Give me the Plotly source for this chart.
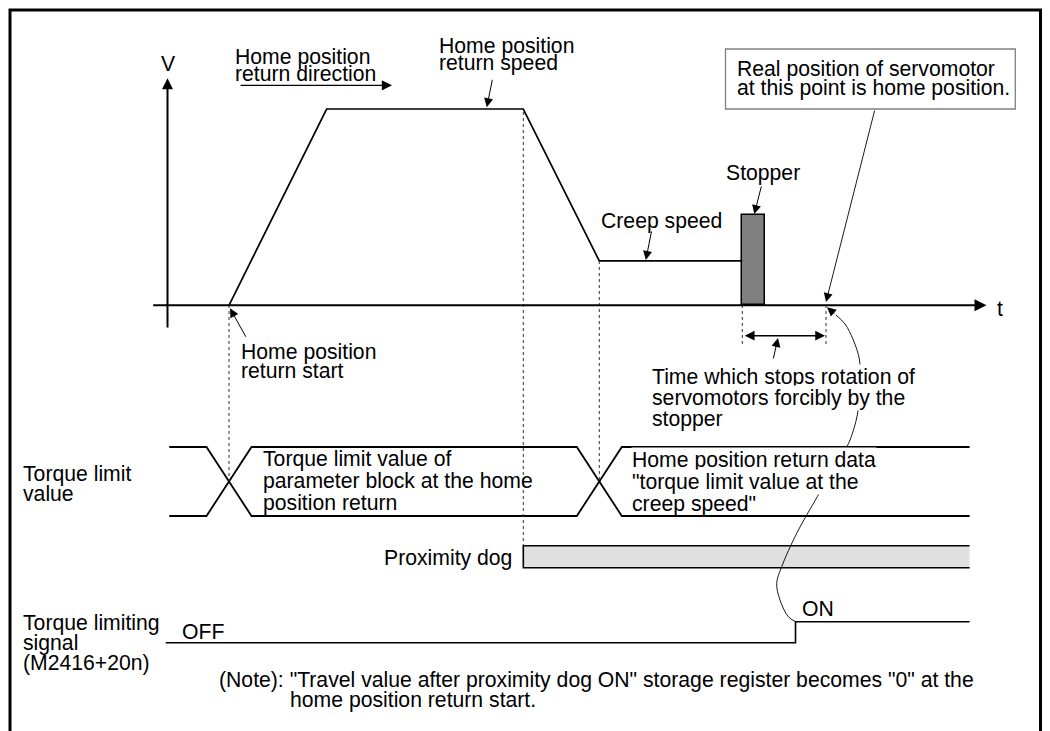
import plotly.graph_objects as go

# ---------------- data (timing of the home position return) ----------------
T_START = 229.0          # home position return start
T_ACCEL_END = 326.6      # reaches home position return speed
T_DOG_ON = 523.3         # proximity dog ON -> deceleration
T_CREEP = 599.3          # creep speed reached
T_STOPPER = 742.3        # stopper hit
T_STOPPER_END = 765.3
T_HOME = 826.0           # real home position
T_SIGNAL_ON = 795.5      # torque limiting signal ON
T_ROW_START = 169.3
T_SIGNAL_START = 165.7
T_ROW_END = 969.6

VEL_T = [T_START, T_ACCEL_END, T_DOG_ON, T_CREEP, T_STOPPER]
VEL_V = [0, 100, 100, 22.6, 22.6]          # % of home position return speed
STOPPER_HEIGHT = 46.0

TORQUE_CHANGE_T = [T_START, T_CREEP]
SIGNAL_T = [T_SIGNAL_START, T_SIGNAL_ON, T_SIGNAL_ON, T_ROW_END]
SIGNAL_LEVEL = [0, 0, 1, 1]
DOG_T = [T_DOG_ON, T_ROW_END]

# ---------------- layout constants (pixels) ----------------
W, H = 1050, 731
FONT = dict(family="Liberation Sans, Arial, sans-serif", size=21.2, color="black")
V_ZERO_PX, V_FULL_PX = 305.3, 109.0
TQ_TOP, TQ_BOT, TQ_HALF = 447.0, 516.0, 22.5
DOG_TOP, DOG_BOT = 545.7, 567.7
SIG_OFF, SIG_AMP = 642.7, 21.0

px_per_v = (V_ZERO_PX - V_FULL_PX) / 100.0
v_range = [-(H - V_ZERO_PX) / px_per_v, V_ZERO_PX / px_per_v]

fig = go.Figure()

# velocity profile
fig.add_trace(go.Scatter(x=VEL_T, y=VEL_V, yaxis="y2", mode="lines",
                         line=dict(color="black", width=1.7), hoverinfo="skip"))
# stopper
fig.add_trace(go.Bar(x=[(T_STOPPER + T_STOPPER_END) / 2], y=[STOPPER_HEIGHT],
                     width=[T_STOPPER_END - T_STOPPER], base=0, yaxis="y2",
                     marker=dict(color="#808080", line=dict(color="black", width=1.5)),
                     hoverinfo="skip"))

# torque limit value bus
xs1, ys1, xs2, ys2 = [T_ROW_START], [TQ_TOP], [T_ROW_START], [TQ_BOT]
state = 0
for t in TORQUE_CHANGE_T:
    a, b = (TQ_TOP, TQ_BOT) if state == 0 else (TQ_BOT, TQ_TOP)
    xs1 += [t - TQ_HALF, t + TQ_HALF]; ys1 += [a, b]
    xs2 += [t - TQ_HALF, t + TQ_HALF]; ys2 += [b, a]
    state = 1 - state
xs1.append(T_ROW_END); ys1.append(ys1[-1])
xs2.append(T_ROW_END); ys2.append(ys2[-1])
for xs, ys in ((xs1, ys1), (xs2, ys2)):
    fig.add_trace(go.Scatter(x=xs, y=ys, mode="lines",
                             line=dict(color="black", width=1.8), hoverinfo="skip"))

# proximity dog
fig.add_trace(go.Scatter(x=[DOG_T[0], DOG_T[1], DOG_T[1], DOG_T[0], DOG_T[0]],
                         y=[DOG_TOP, DOG_TOP, DOG_BOT, DOG_BOT, DOG_TOP],
                         fill="toself", fillcolor="#e0e0e0", mode="none", hoverinfo="skip"))
fig.add_trace(go.Scatter(x=[DOG_T[1], DOG_T[0], DOG_T[0], DOG_T[1]],
                         y=[DOG_TOP, DOG_TOP, DOG_BOT, DOG_BOT], mode="lines",
                         line=dict(color="black", width=1.6), hoverinfo="skip"))

# torque limiting signal
fig.add_trace(go.Scatter(x=SIGNAL_T, y=[SIG_OFF - l * SIG_AMP for l in SIGNAL_LEVEL],
                         mode="lines", line=dict(color="black", width=1.6), hoverinfo="skip"))

# curved callout (home position -> signal ON)
curve_x = [836, 845, 853.3, 859.5, 860, 857.3, 850, 844, 830, 817.3, 796.7, 781.7, 776.7, 780, 788.3, T_SIGNAL_ON]
curve_y = [315, 324, 340, 360, 385, 415, 440, 452, 475, 496.7, 533.3, 566.7, 583.3, 600, 616.7, SIG_OFF - SIG_AMP]
fig.add_trace(go.Scatter(x=curve_x, y=curve_y, mode="lines",
                         line=dict(color="black", width=0.9, shape="spline"), hoverinfo="skip"))

# ---------------- shapes ----------------
shapes = []
shapes.append(dict(type="rect", x0=10, y0=10, x1=1040.5, y1=760,
                   line=dict(color="black", width=3)))
shapes.append(dict(type="rect", x0=725.5, y0=49, x1=1015.3, y1=109,
                   line=dict(color="#808080", width=1.3), fillcolor="white"))
dashed = [(T_START, 305, 481), (T_DOG_ON, 112, DOG_TOP), (T_CREEP, 261, 481),
          (T_STOPPER, 305, 345), (T_HOME, 305, 345)]
for x, y0, y1 in dashed:
    shapes.append(dict(type="line", x0=x, x1=x, y0=y0, y1=y1,
                       line=dict(color="#333333", width=1, dash="3px,3px")))

# ---------------- annotations ----------------
ann = []


def arrow(tail, tip, width=1.0, size=1.8, both=False):
    d = dict(x=tip[0], y=tip[1], ax=tail[0], ay=tail[1], xref="x", yref="y",
             axref="x", ayref="y", text="", showarrow=True, arrowhead=2,
             arrowwidth=width, arrowsize=size, arrowcolor="black", standoff=0)
    if both:
        d.update(arrowside="end+start", startarrowhead=2, startarrowsize=size, startstandoff=0)
    ann.append(d)


def text(lines, x, y0, spacing=22.0, xanchor="left", mask=()):
    for i, s in enumerate(lines):
        d = dict(x=x, y=y0 + i * spacing, xref="x", yref="y", text=s,
                 showarrow=False, xanchor=xanchor, yanchor="middle",
                 font=FONT, borderpad=0)
        if i in mask:
            d["bgcolor"] = "white"
        ann.append(d)


# axes
arrow((167.5, 329), (167.5, 78.3), width=2, size=1.1)
arrow((151.7, V_ZERO_PX), (986.5, V_ZERO_PX), width=2, size=1.2)
# pointers
arrow((239, 85.3), (392, 85.3), width=1.2, size=1.7)
arrow((492.6, 78.3), (486.8, 107.3))
arrow((875, 109), (826, 302), width=0.9, size=2.0)
arrow((761.7, 185), (754.3, 214))
arrow((651.8, 230), (645.8, 260))
arrow((246.7, 338.3), (230, 308.3))
arrow((T_STOPPER + 1, 335.7), (T_HOME - 1, 335.7), width=1.5, size=1.3, both=True)
arrow((773, 360), (778, 338))
arrow((836, 315), (827, 307.3), width=0.9, size=2.0)

text(["V"], 168, 63, xanchor="center")
text(["t"], 996, 308)
text(["Home position", "return direction"], 234, 56.8, spacing=16.4)
text(["Home position", "return speed"], 437.5, 45.8, spacing=16.7)
text(["Real position of servomotor", "at this point is home position."], 735.5, 69.2, spacing=18.3)
text(["Stopper"], 725, 173.2)
text(["Creep speed"], 600, 220.8)
text(["Home position", "return start"], 239.5, 351.5, spacing=19.3)
text(["Time which stops rotation of", "servomotors forcibly by the", "stopper"], 650.5, 376.8,
     spacing=21.2, mask=(0, 1))
text(["Torque limit", "value"], 22, 474.2, spacing=19.0)
text(["Torque limit value of", "parameter block at the home", "position return"], 261.5, 459.2, spacing=21.7)
text(["Home position return data", "\"torque limit value at the", "creep speed\""], 631, 460.2,
     spacing=21.9, mask=(0, 1))
text(["Proximity dog"], 512.5, 557.5, xanchor="right")
text(["Torque limiting", "signal", "(M2416+20n)"], 22, 622.5, spacing=20.0)
text(["OFF"], 181, 631.7)
text(["ON"], 801, 608)
text(["(Note): \"Travel value after proximity dog ON\" storage register becomes \"0\" at the"],
     217.5, 679.5)
text(["home position return start."], 288.5, 699.5)

fig.update_layout(
    width=W, height=H, margin=dict(l=0, r=0, t=0, b=0),
    paper_bgcolor="white", plot_bgcolor="white", showlegend=False,
    xaxis=dict(range=[0, W], visible=False, fixedrange=True),
    yaxis=dict(range=[H, 0], visible=False, fixedrange=True),
    yaxis2=dict(range=v_range, overlaying="y", visible=False, fixedrange=True),
    shapes=shapes, annotations=ann, bargap=0,
)

fig.write_html("out.html", config={"displayModeBar": False},
               post_script="document.body.style.margin='0';document.body.style.overflow='hidden';")
